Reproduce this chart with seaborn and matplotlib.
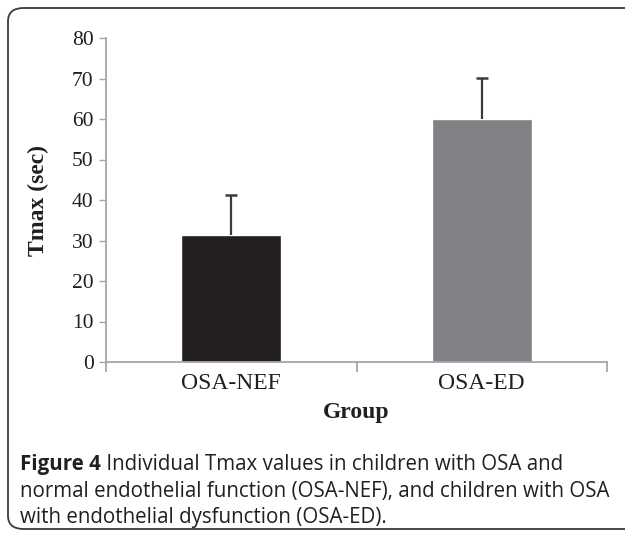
import matplotlib
matplotlib.use("Agg")
import matplotlib.pyplot as plt
import seaborn as sns
import pandas as pd
import numpy as np
from matplotlib.patches import FancyBboxPatch

groups = ["OSA-NEF", "OSA-ED"]
tmax = [31.3, 60.0]
tmax_err = [10.0, 10.2]
bar_colors = ["#231f20", "#808184"]
y_ticks = [0, 10, 20, 30, 40, 50, 60, 70, 80]

sns.set_style("white")
plt.rcParams["font.family"] = ["Liberation Serif", "DejaVu Serif"]

W, H = 625, 533
fig = plt.figure(figsize=(W / 100, H / 100), dpi=100)
ax = fig.add_axes([106 / W, 1 - 362 / H, (607 - 106) / W, (362 - 38) / H])

df = pd.DataFrame({"Group": groups, "Tmax": tmax})
sns.barplot(data=df, x="Group", y="Tmax", hue="Group", palette=bar_colors,
            width=0.4, ax=ax, legend=False, saturation=1, errorbar=None)

xpos = np.arange(len(groups))
tops = np.array(tmax) + np.array(tmax_err)
ax.vlines(xpos, tmax, tops, color="#3a3a3a", linewidth=1.6, zorder=3)
ax.plot(xpos, tops, linestyle="none", marker="_", markersize=8,
        markeredgewidth=1.8, color="#3a3a3a", zorder=3)

ax.set_xlim(-0.5, 1.5)
ax.set_ylim(0, 80)
ax.set_yticks(y_ticks)
ax.set_yticklabels([str(v) for v in y_ticks], fontsize=15.5, color="#231f20")

# category boundaries as major ticks, labels as minor ticks
ax.set_xticks([-0.5, 0.5, 1.5])
ax.set_xticklabels([])
ax.set_xticks([0, 1], minor=True)
ax.set_xticklabels(groups, minor=True, fontsize=17, color="#231f20")
ax.tick_params(axis="x", which="major", direction="out", length=7, width=1.3,
               color="#a6a6a6", bottom=True)
ax.tick_params(axis="x", which="minor", length=0, pad=8)
ax.tick_params(axis="y", direction="out", length=5, width=1, color="#a6a6a6",
               left=True, pad=4)

for side in ["top", "right"]:
    ax.spines[side].set_visible(False)
for side in ["left", "bottom"]:
    ax.spines[side].set_color("#a6a6a6")
    ax.spines[side].set_linewidth(1.3)

ax.set_xlabel("Group", fontsize=17, fontweight="bold", color="#231f20", labelpad=6)
ax.set_ylabel("Tmax (sec)", fontsize=17, fontweight="bold", color="#231f20")
ax.yaxis.set_label_coords(-57 / (607 - 106), 0.5)

# rounded frame
frame = FancyBboxPatch((8 / W, 4 / H), (W + 20) / W, (H - 12) / H,
                       boxstyle="round,pad=0,rounding_size=0.025",
                       transform=fig.transFigure, fill=False,
                       edgecolor="#3a3a3a", linewidth=1.3, clip_on=False)
fig.patches.append(frame)

cap_font = ["Open Sans", "DejaVu Sans"]
cap_size = 14.8
lines = [
    ("Figure 4", " Individual Tmax values in children with OSA and"),
    ("", "normal endothelial function (OSA-NEF), and children with OSA"),
    ("", "with endothelial dysfunction (OSA-ED)."),
]
y0 = 1 - 470 / H
dy = 26.5 / H
x0 = 20 / W
for i, (bold, rest) in enumerate(lines):
    y = y0 - i * dy
    if bold:
        t = fig.text(x0, y, bold, fontsize=cap_size, fontweight="bold",
                     family=cap_font, color="#231f20", va="baseline")
        fig.canvas.draw()
        bb = t.get_window_extent()
        fig.text(bb.x1 / W, y, rest, fontsize=cap_size, family=cap_font,
                 color="#231f20", va="baseline")
    else:
        fig.text(x0, y, rest, fontsize=cap_size, family=cap_font,
                 color="#231f20", va="baseline")

fig.savefig("out.png", dpi=100)
